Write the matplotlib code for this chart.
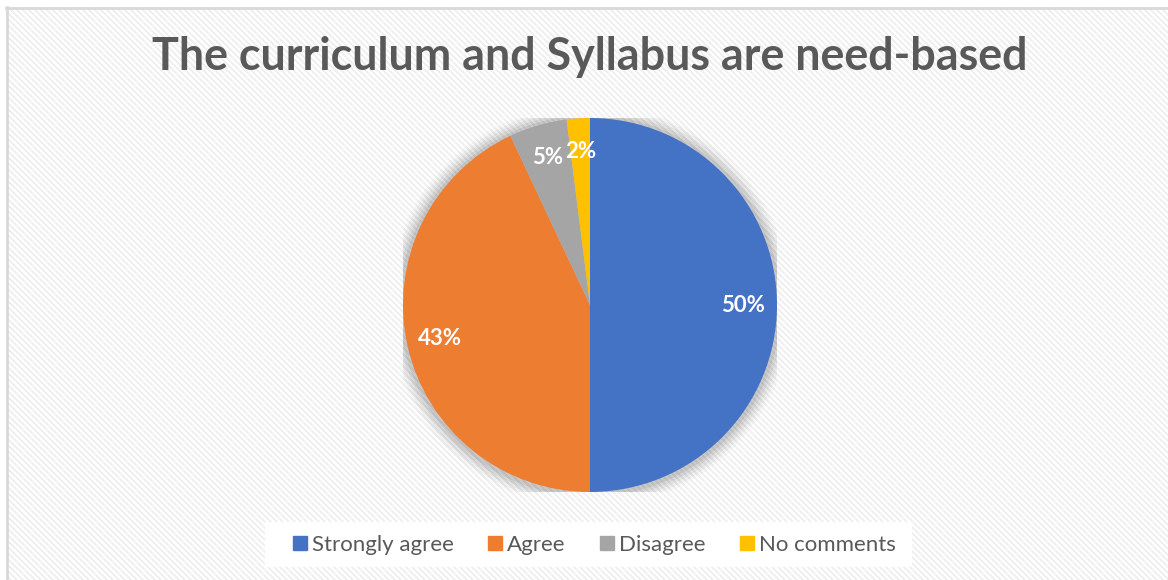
import numpy as np
import matplotlib
matplotlib.use("Agg")
import matplotlib.pyplot as plt
from matplotlib.lines import Line2D
from matplotlib.patches import Circle, Rectangle

title = "The curriculum and Syllabus are need-based"
categories = ["Strongly agree", "Agree", "Disagree", "No comments"]
values = [50, 43, 5, 2]
colors = ["#4472C4", "#ED7D31", "#A5A5A5", "#FFC000"]

W, H = 1168, 580
fig = plt.figure(figsize=(W / 100, H / 100), dpi=100, facecolor="white")

# background pattern (wide downward diagonal)
bg = fig.add_axes([0, 0, 1, 1])
yy, xx = np.mgrid[0:H, 0:W]
pat = ((xx - yy) % 6) < 3
img = np.ones((H, W, 3))
img[pat] = np.array([0.945, 0.945, 0.945])
img[:7, :] = 1.0
img[:, :6] = 1.0
bg.imshow(img, extent=[0, W, H, 0], interpolation="nearest", aspect="auto")
bg.plot([6.5, 6.5], [7, H], color="#d9d9d9", lw=2)
bg.plot([6, W], [7.5, 7.5], color="#d9d9d9", lw=2)
# legend white panel
bg.add_patch(Rectangle((265, 522), 647, 45, facecolor="white", edgecolor="none", zorder=3))
bg.set_xlim(0, W)
bg.set_ylim(H, 0)
bg.axis("off")

# pie
cx, cy, r = 590, 305, 187
ax = fig.add_axes([(cx - r) / W, (H - cy - r) / H, 2 * r / W, 2 * r / H])
for rad, a in [(1.08, 0.025), (1.065, 0.035), (1.05, 0.045), (1.035, 0.055), (1.02, 0.065)]:
    ax.add_patch(Circle((0.0, -0.005), rad, color="black", alpha=a, lw=0, zorder=0))
wedges, texts, autotexts = ax.pie(
    values, colors=colors, startangle=90, counterclock=False,
    autopct=lambda p: f"{p:.0f}%", pctdistance=0.82, radius=1,
    wedgeprops=dict(linewidth=0),
    textprops=dict(color="white", fontsize=16, fontweight="bold", family="Lato"))
for w in wedges:
    w.set_zorder(2)
for t in autotexts:
    t.set_zorder(3)
ax.set_xlim(-1, 1)
ax.set_ylim(-1, 1)
ax.set_aspect("auto")
ax.axis("off")

fig.text(cx / W, 1 - 57 / H, title, ha="center", va="center",
         fontsize=32.3, fontweight="bold", color="#595959", family="Lato")

handles = [Line2D([], [], marker="s", linestyle="none", markersize=10,
                  markerfacecolor=c, markeredgecolor=c) for c in colors]
leg = fig.legend(handles, categories, loc="center", bbox_to_anchor=(594 / W, 1 - 545 / H),
                 ncol=4, frameon=False, handlelength=0.7, handletextpad=0.2,
                 columnspacing=1.5, borderpad=0.3, prop=dict(family="Lato", size=16))
for t in leg.get_texts():
    t.set_color("#595959")

fig.savefig("out.png", dpi=100, facecolor="white")
